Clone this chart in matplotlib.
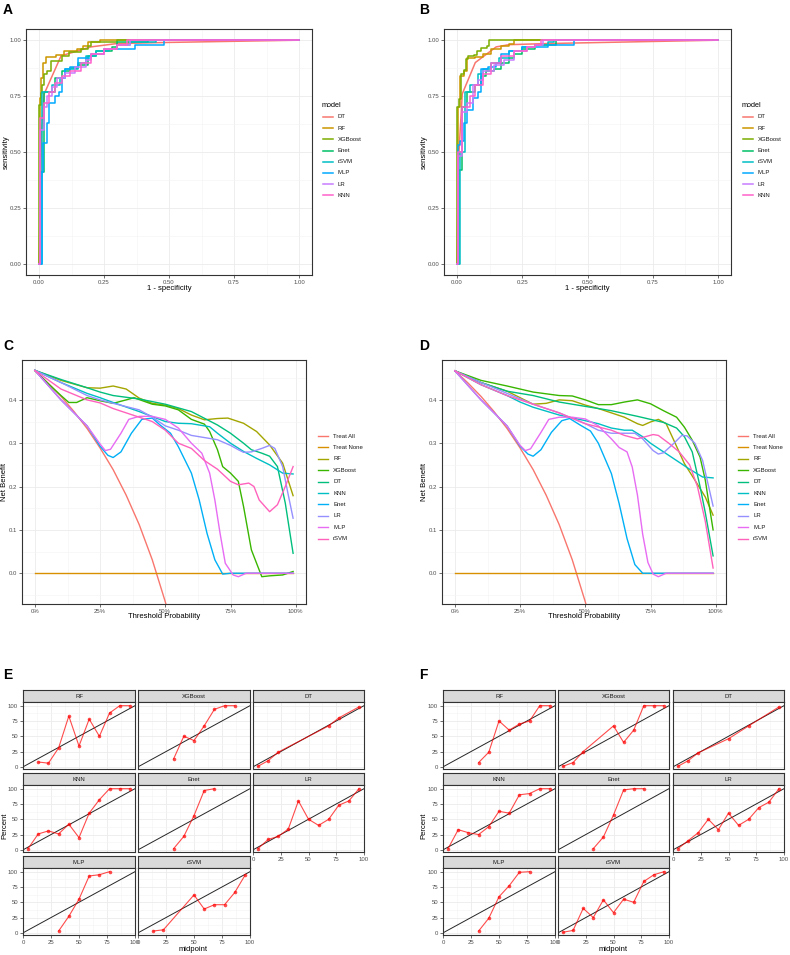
import matplotlib.pyplot as plt
from matplotlib.lines import Line2D
from matplotlib.ticker import MultipleLocator, FuncFormatter

plt.rcParams['font.family'] = ['Liberation Sans', 'DejaVu Sans']

# ---------------- ROC data (fpr, tpr) ----------------
ROC_MODELS = ['DT', 'RF', 'XGBoost', 'Enet', 'rSVM', 'MLP', 'LR', 'KNN']
ROC_COLORS = ['#F8766D', '#CD9600', '#7CAE00', '#00BE67', '#00BFC4', '#00A9FF', '#C77CFF', '#FF61CC']

A_DT_x = [0, 0.01, 0.02, 0.085, 0.2, 0.3, 0.5, 1]
A_DT_y = [0, 0.6, 0.76, 0.93, 0.97, 0.985, 0.99, 1]
A_RF_x = [0, 0.004, 0.008, 0.017, 0.026, 0.064, 0.096, 0.147, 0.17, 0.19, 0.233, 1]
A_RF_y = [0, 0.74, 0.83, 0.90, 0.925, 0.935, 0.95, 0.96, 0.975, 0.99, 1, 1]
A_XGB_x = [0, 0, 0.006, 0.013, 0.019, 0.032, 0.045, 0.09, 0.115, 0.16, 0.19, 0.2, 0.3, 1]
A_XGB_y = [0, 0.71, 0.765, 0.80, 0.85, 0.86, 0.907, 0.93, 0.945, 0.96, 0.975, 0.99, 1, 1]
A_Enet_x = [0, 0.005, 0.02, 0.06, 0.09, 0.12, 0.15, 0.19, 0.22, 0.28, 0.3, 0.42, 1]
A_Enet_y = [0, 0.41, 0.77, 0.83, 0.86, 0.875, 0.89, 0.93, 0.95, 0.97, 0.99, 1, 1]
A_rSVM_x = [0, 0.01, 0.012, 0.05, 0.08, 0.1, 0.15, 0.18, 0.22, 0.27, 0.3, 0.35, 0.45, 1]
A_rSVM_y = [0, 0.5, 0.77, 0.8, 0.83, 0.87, 0.9, 0.93, 0.95, 0.96, 0.98, 0.99, 1, 1]
A_MLP_x = [0, 0.01, 0.015, 0.03, 0.04, 0.06, 0.075, 0.09, 0.1, 0.12, 0.15, 0.2, 0.25, 0.37, 0.48, 1]
A_MLP_y = [0, 0.41, 0.54, 0.63, 0.72, 0.75, 0.77, 0.83, 0.87, 0.88, 0.92, 0.94, 0.96, 0.98, 1, 1]
A_LR_x = [0, 0.005, 0.02, 0.03, 0.05, 0.07, 0.1, 0.14, 0.18, 0.2, 0.25, 0.3, 0.35, 1]
A_LR_y = [0, 0.6, 0.7, 0.75, 0.79, 0.83, 0.855, 0.88, 0.91, 0.94, 0.96, 0.98, 1, 1]
A_KNN_x = [0, 0.005, 0.02, 0.04, 0.06, 0.09, 0.12, 0.16, 0.2, 0.25, 0.3, 0.34, 1]
A_KNN_y = [0, 0.65, 0.72, 0.77, 0.81, 0.84, 0.86, 0.9, 0.94, 0.96, 0.98, 1, 1]

B_DT_x = [0, 0.005, 0.02, 0.07, 0.15, 0.2, 0.35, 1]
B_DT_y = [0, 0.45, 0.76, 0.9, 0.97, 0.98, 0.985, 1]
B_RF_x = [0, 0.005, 0.011, 0.026, 0.04, 0.07, 0.1, 0.13, 0.17, 0.2, 0.22, 1]
B_RF_y = [0, 0.7, 0.84, 0.86, 0.92, 0.925, 0.94, 0.96, 0.975, 0.985, 1, 1]
B_XGB_x = [0, 0, 0.009, 0.017, 0.026, 0.036, 0.041, 0.064, 0.077, 0.09, 0.115, 0.122, 1]
B_XGB_y = [0, 0.70, 0.735, 0.85, 0.865, 0.915, 0.93, 0.935, 0.95, 0.965, 0.975, 1, 1]
B_Enet_x = [0, 0.008, 0.02, 0.04, 0.07, 0.09, 0.11, 0.14, 0.17, 0.2, 0.22, 0.25, 0.3, 0.38, 1]
B_Enet_y = [0, 0.42, 0.7, 0.77, 0.8, 0.84, 0.86, 0.87, 0.9, 0.92, 0.94, 0.96, 0.98, 1, 1]
B_rSVM_x = [0, 0.01, 0.03, 0.05, 0.08, 0.1, 0.13, 0.16, 0.2, 0.25, 0.3, 0.35, 0.37, 1]
B_rSVM_y = [0, 0.5, 0.77, 0.8, 0.85, 0.87, 0.9, 0.92, 0.95, 0.97, 0.98, 0.99, 1, 1]
B_MLP_x = [0, 0.005, 0.01, 0.025, 0.04, 0.06, 0.08, 0.09, 0.12, 0.15, 0.17, 0.2, 0.25, 0.35, 0.45, 1]
B_MLP_y = [0, 0.53, 0.55, 0.63, 0.69, 0.74, 0.77, 0.87, 0.88, 0.9, 0.94, 0.95, 0.97, 0.98, 1, 1]
B_LR_x = [0, 0.005, 0.02, 0.04, 0.06, 0.08, 0.1, 0.14, 0.18, 0.22, 0.27, 0.3, 0.33, 1]
B_LR_y = [0, 0.48, 0.68, 0.72, 0.8, 0.82, 0.86, 0.89, 0.91, 0.95, 0.97, 0.98, 1, 1]
B_KNN_x = [0, 0.005, 0.02, 0.05, 0.07, 0.1, 0.13, 0.17, 0.22, 0.27, 0.3, 0.32, 1]
B_KNN_y = [0, 0.5, 0.7, 0.75, 0.8, 0.85, 0.9, 0.93, 0.95, 0.97, 0.98, 1, 1]

ROC_A = [(A_DT_x, A_DT_y), (A_RF_x, A_RF_y), (A_XGB_x, A_XGB_y), (A_Enet_x, A_Enet_y),
         (A_rSVM_x, A_rSVM_y), (A_MLP_x, A_MLP_y), (A_LR_x, A_LR_y), (A_KNN_x, A_KNN_y)]
ROC_B = [(B_DT_x, B_DT_y), (B_RF_x, B_RF_y), (B_XGB_x, B_XGB_y), (B_Enet_x, B_Enet_y),
         (B_rSVM_x, B_rSVM_y), (B_MLP_x, B_MLP_y), (B_LR_x, B_LR_y), (B_KNN_x, B_KNN_y)]

# ---------------- DCA data (threshold, net benefit) ----------------
DCA_NAMES = ['Treat All', 'Treat None', 'RF', 'XGBoost', 'DT', 'KNN', 'Enet', 'LR', 'MLP', 'rSVM']
DCA_COLORS = ['#F8766D', '#D89000', '#A3A500', '#39B600', '#00BF7D', '#00BFC4', '#00B0F6',
              '#9590FF', '#E76BF3', '#FF62BC']

ALL_x = [0, 0.05, 0.1, 0.15, 0.2, 0.25, 0.3, 0.35, 0.4, 0.45, 0.5, 0.52]
ALL_y = [0.467, 0.439, 0.408, 0.373, 0.334, 0.289, 0.239, 0.18, 0.112, 0.031, -0.066, -0.111]
NONE_x = [0, 0.99]
NONE_y = [0, 0]

C_RF_x = [0, .1, .2, .25, .3, .35, .4, .45, .5, .55, .6, .65, .7, .74, .8, .85, .9, .95, .99]
C_RF_y = [.468, .445, .428, .427, .432, .425, .404, .392, .388, .38, .365, .354, .357, .358, .346, .327, .296, .254, .179]
C_XGB_x = [0, .05, .1, .13, .16, .2, .25, .3, .35, .38, .45, .5, .55, .6, .65, .67, .7, .72, .75, .78, .8, .83, .87, .9, .95, .99]
C_XGB_y = [.468, .438, .41, .394, .394, .405, .398, .392, .400, .405, .39, .386, .377, .355, .344, .327, .285, .246, .231, .212,
           .154, .054, -.008, -.006, -.004, .004]
C_DT_x = [0, .1, .2, .25, .3, .4, .5, .6, .7, .75, .8, .83, .87, .9, .93, .96, .99]
C_DT_y = [.468, .447, .428, .418, .41, .402, .39, .373, .342, .323, .300, .285, .277, .27, .246, .162, .046]
C_KNN_x = [0, .1, .2, .25, .3, .4, .5, .55, .6, .67, .7, .75, .8, .85, .9, .95, .99]
C_KNN_y = [.468, .44, .415, .405, .394, .373, .35, .346, .345, .338, .323, .3, .281, .265, .25, .231, .229]
C_Enet_x = [0, .1, .2, .25, .28, .3, .33, .37, .41, .45, .48, .52, .55, .6, .63, .66, .69, .72, .75, .99]
C_Enet_y = [.468, .40, .34, .293, .272, .267, .28, .323, .355, .358, .342, .323, .292, .231, .169, .092, .031, -.002, 0, 0]
C_LR_x = [0, .1, .2, .25, .3, .4, .45, .5, .55, .6, .7, .75, .78, .8, .83, .87, .9, .92, .95, .97, .99]
C_LR_y = [.468, .44, .41, .40, .392, .377, .36, .34, .33, .318, .308, .295, .285, .279, .28, .288, .295, .288, .246, .185, .127]
C_MLP_x = [0, .1, .2, .25, .27, .29, .33, .36, .4, .45, .5, .55, .6, .64, .67, .69, .71, .73, .76, .78, .81, .99]
C_MLP_y = [.468, .40, .34, .298, .283, .286, .323, .355, .362, .362, .355, .335, .30, .277, .231, .169, .092, .023, -.004,
           -.008, 0, 0]
C_rSVM_x = [0, .1, .2, .25, .3, .35, .4, .45, .5, .55, .6, .65, .7, .75, .78, .82, .84, .86, .9, .93, .96, .99]
C_rSVM_y = [.468, .425, .40, .393, .38, .37, .36, .35, .33, .30, .288, .26, .24, .212, .204, .208, .2, .169, .142, .158, .2, .246]

D_RF_x = [0, .1, .2, .25, .3, .35, .4, .45, .5, .55, .6, .65, .7, .72, .75, .78, .81, .84, .88, .92, .96, .99]
D_RF_y = [.467, .44, .42, .405, .39, .392, .40, .398, .388, .38, .37, .36, .345, .341, .349, .355, .345, .306, .253, .215, .176, .134]
D_XGB_x = [0, .1, .2, .25, .3, .4, .45, .5, .55, .6, .65, .7, .75, .8, .85, .88, .91, .94, .96, .98, .99]
D_XGB_y = [.467, .445, .432, .425, .418, .41, .409, .40, .389, .389, .395, .40, .391, .375, .36, .337, .307, .268, .215, .138, .10]
D_DT_x = [0, .1, .2, .3, .4, .5, .6, .7, .8, .85, .88, .91, .94, .96, .99]
D_DT_y = [.467, .44, .42, .41, .395, .385, .375, .362, .348, .335, .315, .28, .2, .14, .04]
D_KNN_x = [0, .1, .2, .25, .3, .4, .5, .55, .6, .65, .68, .72, .75, .8, .85, .9, .95, .99]
D_KNN_y = [.467, .435, .41, .395, .383, .365, .352, .345, .335, .33, .33, .315, .30, .28, .26, .24, .222, .22]
D_Enet_x = [0, .1, .2, .25, .28, .3, .33, .37, .41, .44, .48, .52, .55, .6, .63, .66, .69, .72, .99]
D_Enet_y = [.467, .40, .34, .293, .275, .27, .285, .325, .352, .357, .342, .328, .30, .23, .16, .08, .02, 0, 0]
D_LR_x = [0, .1, .2, .3, .4, .5, .55, .6, .65, .69, .72, .76, .78, .8, .84, .87, .89, .92, .95, .99]
D_LR_y = [.467, .44, .415, .39, .37, .345, .33, .323, .323, .323, .31, .283, .275, .278, .30, .318, .317, .30, .26, .155]
D_MLP_x = [0, .1, .2, .25, .27, .29, .33, .36, .4, .45, .5, .55, .6, .63, .66, .68, .7, .72, .74, .76, .78, .81, .99]
D_MLP_y = [.467, .40, .34, .295, .283, .287, .325, .355, .36, .36, .356, .34, .31, .29, .28, .245, .18, .09, .025, -.002,
           -.008, 0, 0]
D_rSVM_x = [0, .1, .2, .3, .4, .5, .6, .65, .7, .73, .76, .78, .82, .86, .9, .93, .96, .99]
D_rSVM_y = [.467, .435, .41, .39, .37, .345, .33, .318, .31, .315, .32, .318, .3, .28, .25, .2, .12, .012]

DCA_C = [(ALL_x, ALL_y), (NONE_x, NONE_y), (C_RF_x, C_RF_y), (C_XGB_x, C_XGB_y), (C_DT_x, C_DT_y),
         (C_KNN_x, C_KNN_y), (C_Enet_x, C_Enet_y), (C_LR_x, C_LR_y), (C_MLP_x, C_MLP_y), (C_rSVM_x, C_rSVM_y)]
DCA_D = [(ALL_x, ALL_y), (NONE_x, NONE_y), (D_RF_x, D_RF_y), (D_XGB_x, D_XGB_y), (D_DT_x, D_DT_y),
         (D_KNN_x, D_KNN_y), (D_Enet_x, D_Enet_y), (D_LR_x, D_LR_y), (D_MLP_x, D_MLP_y), (D_rSVM_x, D_rSVM_y)]

# ---------------- calibration data (bin midpoint, observed percent) ----------------
CAL_MODELS = ['RF', 'XGBoost', 'DT', 'KNN', 'Enet', 'LR', 'MLP', 'rSVM']

E_RF_x = [13.6, 22.7, 31.8, 40.9, 50, 59.1, 68.2, 77.3, 86.4, 95.5]
E_RF_y = [8, 6, 31, 83, 34, 78, 50, 88, 100, 100]
E_XGB_x = [31.8, 40.9, 50, 59.1, 68.2, 77.3, 86.4]
E_XGB_y = [13, 50, 43, 67, 94, 100, 100]
E_DT_x = [4.5, 13.6, 22.7, 68.2, 77.3, 95.5]
E_DT_y = [1, 10, 24, 67, 80, 98]
E_KNN_x = [4.5, 13.6, 22.7, 31.8, 40.9, 50, 59.1, 68.2, 77.3, 86.4, 95.5]
E_KNN_y = [2, 26, 31, 26, 42, 20, 60, 82, 100, 100, 100]
E_Enet_x = [31.8, 40.9, 50, 59.1, 68.2]
E_Enet_y = [2, 22, 56, 97, 100]
E_LR_x = [4.5, 13.6, 22.7, 31.8, 40.9, 50, 59.1, 68.2, 77.3, 86.4, 95.5]
E_LR_y = [2, 17, 22, 34, 80, 50, 40, 50, 73, 80, 100]
E_MLP_x = [31.8, 40.9, 50, 59.1, 68.2, 77.3]
E_MLP_y = [3, 27, 55, 93, 95, 100]
E_rSVM_x = [13.6, 22.7, 50, 59.1, 68.2, 77.3, 86.4, 95.5]
E_rSVM_y = [3, 5, 62, 39, 46, 46, 66, 94]

F_RF_x = [31.8, 40.9, 50, 59.1, 68.2, 77.3, 86.4, 95.5]
F_RF_y = [7, 24, 75, 60, 70, 75, 100, 100]
F_XGB_x = [4.5, 13.6, 22.7, 50, 59.1, 68.2, 77.3, 86.4, 95.5]
F_XGB_y = [1, 7, 25, 67, 40, 60, 100, 100, 100]
F_DT_x = [4.5, 13.6, 22.7, 50, 68.2, 95.5]
F_DT_y = [1, 10, 23, 46, 67, 98]
F_KNN_x = [4.5, 13.6, 22.7, 31.8, 40.9, 50, 59.1, 68.2, 77.3, 86.4, 95.5]
F_KNN_y = [2, 33, 28, 25, 38, 63, 60, 90, 92, 100, 100]
F_Enet_x = [31.8, 40.9, 50, 59.1, 68.2, 77.3]
F_Enet_y = [2, 21, 57, 98, 100, 100]
F_LR_x = [4.5, 13.6, 22.7, 31.8, 40.9, 50, 59.1, 68.2, 77.3, 86.4, 95.5]
F_LR_y = [2, 15, 28, 50, 33, 60, 40, 50, 69, 78, 100]
F_MLP_x = [31.8, 40.9, 50, 59.1, 68.2, 77.3]
F_MLP_y = [3, 24, 59, 77, 99, 100]
F_rSVM_x = [4.5, 13.6, 22.7, 31.8, 40.9, 50, 59.1, 68.2, 77.3, 86.4, 95.5]
F_rSVM_y = [1, 4, 40, 25, 54, 33, 55, 50, 84, 95, 100]

CAL_E = [(E_RF_x, E_RF_y), (E_XGB_x, E_XGB_y), (E_DT_x, E_DT_y), (E_KNN_x, E_KNN_y),
         (E_Enet_x, E_Enet_y), (E_LR_x, E_LR_y), (E_MLP_x, E_MLP_y), (E_rSVM_x, E_rSVM_y)]
CAL_F = [(F_RF_x, F_RF_y), (F_XGB_x, F_XGB_y), (F_DT_x, F_DT_y), (F_KNN_x, F_KNN_y),
         (F_Enet_x, F_Enet_y), (F_LR_x, F_LR_y), (F_MLP_x, F_MLP_y), (F_rSVM_x, F_rSVM_y)]

# ---------------- layout helpers (pixel coords, origin top-left) ----------------
W, H = 790, 955
fig = plt.figure(figsize=(W / 100, H / 100), dpi=100)

DARK = '#333333'
TICK_FS = 4.3
TITLE_FS = 5.5


def px_axes(l, t, r, b):
    return fig.add_axes([l / W, 1 - b / H, (r - l) / W, (b - t) / H])


def ftext(x, y, s, **kw):
    fig.text(x / W, 1 - y / H, s, **kw)


def fline(x1, x2, y, color, lw):
    fig.add_artist(Line2D([x1 / W, x2 / W], [1 - y / H, 1 - y / H], color=color, lw=lw,
                          transform=fig.transFigure))


def theme_bw(ax):
    for s in ax.spines.values():
        s.set_color(DARK)
        s.set_linewidth(0.8)
    ax.grid(True, which='major', color='#EBEBEB', lw=0.6)
    ax.grid(True, which='minor', color='#F4F4F4', lw=0.4)
    ax.set_axisbelow(True)
    ax.tick_params(which='major', length=2, width=0.5, color=DARK, labelsize=TICK_FS,
                   labelcolor='#4D4D4D', pad=1.5)
    ax.tick_params(which='minor', length=0)


def legend(x, y0, step, names, colors, title=None, lw=1.1):
    if title:
        ftext(x, y0 - step, title, fontsize=5.2, va='center', ha='left')
    for i, (n, c) in enumerate(zip(names, colors)):
        y = y0 + i * step
        fline(x + 1, x + 11, y, c, lw)
        ftext(x + 16, y, n, fontsize=TICK_FS, va='center', ha='left', color='#1A1A1A')


def roc_panel(box, data, letter, lx, ylab_x, legx):
    ax = px_axes(*box)
    theme_bw(ax)
    for name, col, (x, y) in zip(ROC_MODELS, ROC_COLORS, data):
        ax.plot(x, y, color=col, lw=1.1, drawstyle='default' if name == 'DT' else 'steps-post')
    ax.set_xlim(-0.05, 1.05)
    ax.set_ylim(-0.05, 1.05)
    for a in (ax.xaxis, ax.yaxis):
        a.set_major_locator(MultipleLocator(0.25))
        a.set_minor_locator(MultipleLocator(0.125))
        a.set_major_formatter(FuncFormatter(lambda v, p: '%.2f' % v))
    ftext(lx, 10, letter, fontsize=10, fontweight='bold', va='center', ha='left')
    ftext((box[0] + box[2]) / 2, 288, '1 - specificity', fontsize=TITLE_FS, ha='center', va='center')
    ftext(ylab_x, (box[1] + box[3]) / 2, 'sensitivity', fontsize=TITLE_FS, ha='center', va='center',
          rotation=90)
    legend(legx, 117, 11.2, ROC_MODELS, ROC_COLORS, title='model')


def dca_panel(box, data, letter, lx, ylab_x, legx):
    ax = px_axes(*box)
    theme_bw(ax)
    for col, (x, y) in zip(DCA_COLORS, data):
        ax.plot(x, y, color=col, lw=1.0)
    ax.set_xlim(-0.0495, 1.0395)
    ax.set_ylim(-0.071, 0.492)
    ax.xaxis.set_major_locator(MultipleLocator(0.25))
    ax.xaxis.set_minor_locator(MultipleLocator(0.125))
    ax.xaxis.set_major_formatter(FuncFormatter(lambda v, p: '%d%%' % round(v * 100)))
    ax.yaxis.set_major_locator(MultipleLocator(0.1))
    ax.yaxis.set_minor_locator(MultipleLocator(0.05))
    ax.yaxis.set_major_formatter(FuncFormatter(lambda v, p: '%.1f' % v))
    ftext(lx, 346, letter, fontsize=10, fontweight='bold', va='center', ha='left')
    ftext((box[0] + box[2]) / 2, 617, 'Threshold Probability', fontsize=TITLE_FS, ha='center', va='center')
    ftext(ylab_x, (box[1] + box[3]) / 2, 'Net Benefit', fontsize=TITLE_FS, ha='center', va='center',
          rotation=90)
    legend(legx, 436, 11.4, DCA_NAMES, DCA_COLORS, lw=1.0)


def cal_panel(cols, data, letter, lx, ylab_x):
    rows = [(690, 702, 769), (773, 785, 852), (856, 868, 935)]
    for i, (name, (x, y)) in enumerate(zip(CAL_MODELS, data)):
        r, c = divmod(i, 3)
        st, pt, pb = rows[r]
        l, rr = cols[c]
        strip = px_axes(l, st, rr, pt)
        strip.set_facecolor('#D9D9D9')
        strip.set_xticks([])
        strip.set_yticks([])
        for s in strip.spines.values():
            s.set_color(DARK)
            s.set_linewidth(0.8)
        strip.text(0.5, 0.5, name, transform=strip.transAxes, ha='center', va='center',
                   fontsize=TICK_FS, color='#1A1A1A')
        ax = px_axes(l, pt, rr, pb)
        theme_bw(ax)
        ax.plot([0, 100], [0, 100], color='black', lw=0.7, alpha=0.85)
        ax.plot(x, y, color='red', lw=0.8, alpha=0.7, marker='o', ms=2.6, mew=0)
        ax.set_xlim(0, 100)
        ax.set_ylim(-3.5, 106)
        for a in (ax.xaxis, ax.yaxis):
            a.set_major_locator(MultipleLocator(25))
            a.set_minor_locator(MultipleLocator(12.5))
        bottom = r == 2 or (r == 1 and c == 2)
        if not bottom:
            ax.tick_params(axis='x', length=0, labelbottom=False)
        if c != 0:
            ax.tick_params(axis='y', length=0, labelleft=False)
    ftext(lx, 675, letter, fontsize=10, fontweight='bold', va='center', ha='left')
    ftext((cols[0][0] + cols[2][1]) / 2, 949, 'midpoint', fontsize=TITLE_FS, ha='center', va='center')
    ftext(ylab_x, 826, 'Percent', fontsize=TITLE_FS, ha='center', va='center', rotation=90)


roc_panel((26, 29, 312, 275), ROC_A, 'A', 3, 6, 322)
roc_panel((444, 29, 731, 275), ROC_B, 'B', 419, 424, 742)
dca_panel((22, 360, 306, 604), DCA_C, 'C', 3, 5, 317)
dca_panel((442, 360, 726, 604), DCA_D, 'D', 419, 424, 737)
cal_panel([(23, 135), (138, 250), (253, 364)], CAL_E, 'E', 3, 5)
cal_panel([(443, 555), (558, 669), (673, 784)], CAL_F, 'F', 419, 424)

fig.savefig('out.png', dpi=100, facecolor='white')
